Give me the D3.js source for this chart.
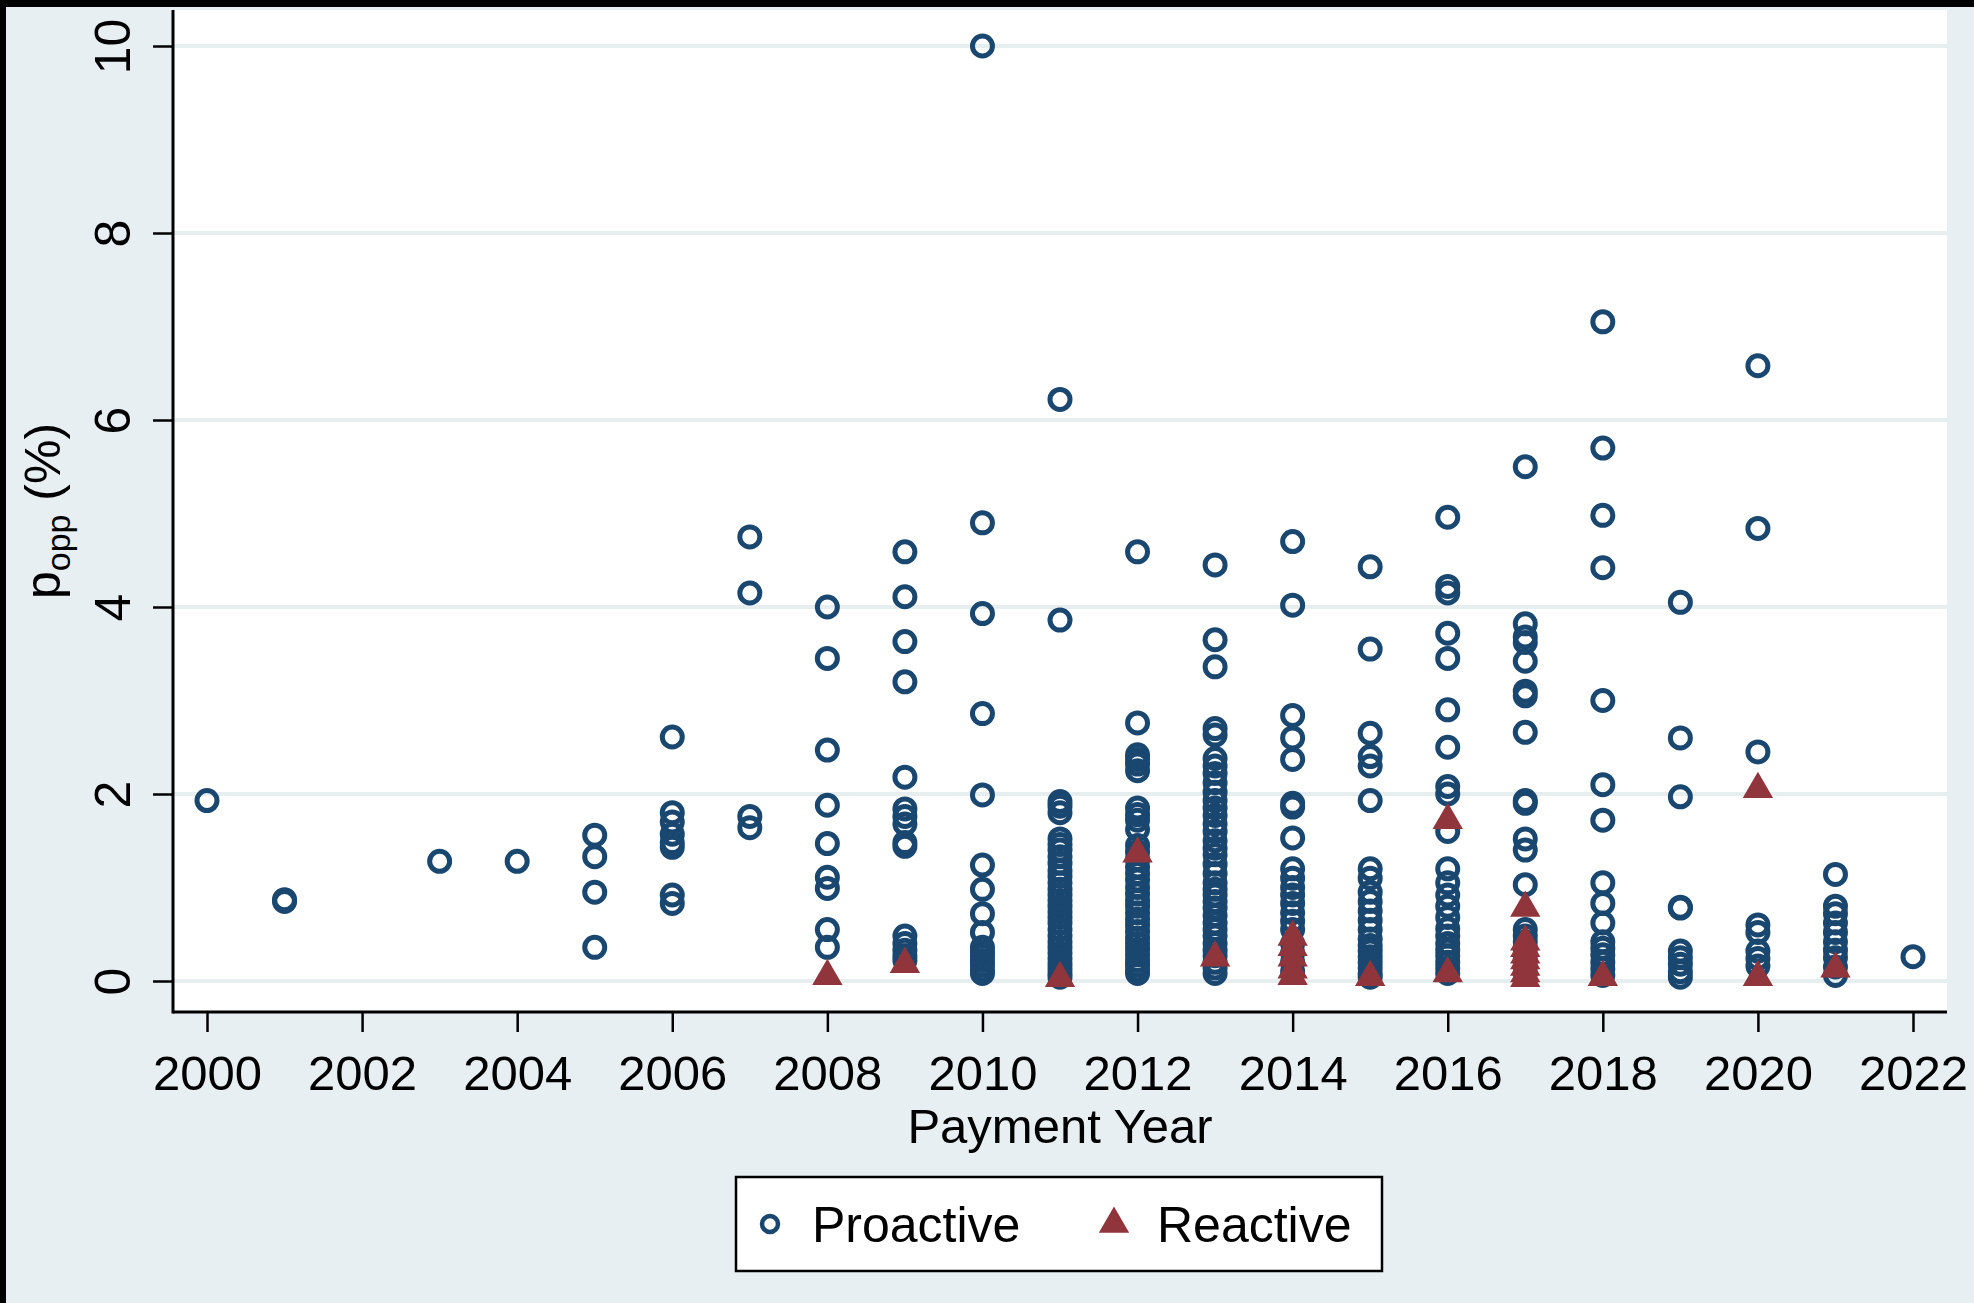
<!DOCTYPE html>
<html>
<head>
<meta charset="utf-8">
<script src="https://cdn.jsdelivr.net/npm/d3@7"></script>
<style>
  body { margin: 0; background: #000; }
  svg { display: block; }
</style>
</head>
<body>
<div id="chart"></div>
<script>
// Tick labels
const xTicks = [2000, 2002, 2004, 2006, 2008, 2010, 2012, 2014, 2016, 2018, 2020, 2022];
const yTicks = [0, 2, 4, 6, 8, 10];

// Proactive values (p_opp, %) by payment year
const pro2000 = [1.93];
const pro2001 = [0.85, 0.87];
const pro2003 = [1.28];
const pro2004 = [1.28];
const pro2005 = [1.56, 1.33, 0.95, 0.36];
const pro2006 = [2.61, 1.80, 1.70, 1.57, 1.48, 1.43, 0.92, 0.83];
const pro2007 = [4.75, 4.15, 1.76, 1.64];
const pro2008 = [4.0, 3.45, 2.47, 1.88, 1.47, 1.11, 0.99, 0.55, 0.36];
const pro2009 = [4.59, 4.11, 3.63, 3.2, 2.18, 1.84, 1.76, 1.68, 1.48, 1.44, 0.48, 0.4, 0.33, 0.27, 0.22];
const pro2010 = [10.0, 4.9, 3.93, 2.86, 1.99, 1.24, 0.98, 0.72, 0.52, 0.36, 0.31, 0.27, 0.22, 0.17, 0.12, 0.08];
const pro2011 = [6.22, 3.86, 1.92, 1.87, 1.80, 1.52, 1.46, 1.40, 1.33, 1.26, 1.18, 1.12, 1.05, 0.98, 0.92, 0.86,
                 0.80, 0.74, 0.68, 0.62, 0.55, 0.48, 0.42, 0.36, 0.30, 0.24, 0.18, 0.13, 0.08, 0.04];
const pro2012 = [4.59, 2.76, 2.42, 2.37, 2.32, 2.25, 1.85, 1.78, 1.72, 1.62, 1.45, 1.38, 1.30, 1.22, 1.15, 1.08,
                 1.0, 0.93, 0.86, 0.8, 0.73, 0.66, 0.6, 0.53, 0.46, 0.4, 0.34, 0.28, 0.22, 0.17, 0.12, 0.08];
const pro2013 = [4.45, 3.65, 3.36, 2.7, 2.63, 2.38, 2.3, 2.22, 2.12, 2.02, 1.93, 1.85, 1.77, 1.68, 1.6, 1.5, 1.42,
                 1.35, 1.25, 1.15, 1.05, 0.98, 0.92, 0.85, 0.78, 0.7, 0.62, 0.55, 0.48, 0.4, 0.33, 0.27, 0.2, 0.14, 0.08];
const pro2014 = [4.7, 4.02, 2.84, 2.6, 2.37, 1.9, 1.86, 1.53, 1.2, 1.1, 1.0, 0.92, 0.83, 0.73, 0.64, 0.55, 0.4, 0.3, 0.2, 0.1];
const pro2015 = [4.43, 3.55, 2.65, 2.4, 2.3, 1.93, 1.2, 1.1, 0.95, 0.85, 0.75, 0.65, 0.55, 0.45, 0.38, 0.32, 0.26,
                 0.2, 0.14, 0.08, 0.04];
const pro2016 = [4.96, 4.22, 4.15, 3.72, 3.45, 2.9, 2.5, 2.08, 2.0, 1.6, 1.2, 1.05, 0.92, 0.8, 0.68, 0.56, 0.48,
                 0.4, 0.33, 0.27, 0.2, 0.14, 0.08];
const pro2017 = [5.5, 3.82, 3.68, 3.62, 3.42, 3.1, 3.05, 2.66, 1.93, 1.9, 1.52, 1.4, 1.03, 0.55, 0.48, 0.42, 0.35,
                 0.28, 0.22, 0.15, 0.08];
const pro2018 = [7.05, 5.7, 4.98, 4.42, 3.0, 2.1, 1.72, 1.05, 0.83, 0.62, 0.42, 0.35, 0.28, 0.2, 0.13, 0.06];
const pro2019 = [4.05, 2.6, 1.97, 0.79, 0.78, 0.32, 0.25, 0.18, 0.1, 0.04];
const pro2020 = [6.58, 4.84, 2.45, 0.6, 0.52, 0.32, 0.24, 0.16];
const pro2021 = [1.14, 0.8, 0.72, 0.62, 0.52, 0.42, 0.33, 0.25, 0.15, 0.06];
const pro2022 = [0.26];

// Reactive values by payment year
const re2008 = [0.05];
const re2009 = [0.18];
const re2011 = [0.03];
const re2012 = [1.36];
const re2013 = [0.25];
const re2014 = [0.47, 0.36, 0.25, 0.12, 0.05];
const re2015 = [0.04];
const re2016 = [1.72, 0.08];
const re2017 = [0.78, 0.42, 0.35, 0.28, 0.22, 0.15, 0.08, 0.03];
const re2018 = [0.04];
const re2020 = [2.05, 0.04];
const re2021 = [0.13];

const proactiveYears = [
    [2000, pro2000], [2001, pro2001], [2003, pro2003], [2004, pro2004], [2005, pro2005], [2006, pro2006],
    [2007, pro2007], [2008, pro2008], [2009, pro2009], [2010, pro2010], [2011, pro2011], [2012, pro2012],
    [2013, pro2013], [2014, pro2014], [2015, pro2015], [2016, pro2016], [2017, pro2017], [2018, pro2018],
    [2019, pro2019], [2020, pro2020], [2021, pro2021], [2022, pro2022]
];
const reactiveYears = [
    [2008, re2008], [2009, re2009], [2011, re2011], [2012, re2012], [2013, re2013], [2014, re2014],
    [2015, re2015], [2016, re2016], [2017, re2017], [2018, re2018], [2020, re2020], [2021, re2021]
];

// Flatten to points
const proactive = proactiveYears.flatMap(([yr, vals]) => vals.map(v => ({ year: yr, value: v })));
const reactive = reactiveYears.flatMap(([yr, vals]) => vals.map(v => ({ year: yr, value: v })));

const width = 1974;
const height = 1303;
const plot = { left: 173, right: 1947, top: 10, bottom: 1012 };
const navy = "#1a476f";
const maroon = "#90353b";
const font = "'Liberation Sans', Arial, sans-serif";

const svg = d3.select("#chart")
    .append("svg")
    .attr("width", width)
    .attr("height", height)
    .style("font-family", font);

// Background and frame
svg.append("rect").attr("width", width).attr("height", height).attr("fill", "#e8eff2");
svg.append("rect").attr("width", width).attr("height", 7).attr("fill", "#000");
svg.append("rect").attr("width", 6).attr("height", height).attr("fill", "#000");

// Scales
const x = d3.scaleLinear().domain([2000, 2022]).range([207, 1913]);
const y = d3.scaleLinear().domain([0, 10]).range([981, 46]);

// Plot region
svg.append("rect")
    .attr("x", plot.left)
    .attr("y", plot.top)
    .attr("width", plot.right - plot.left)
    .attr("height", plot.bottom - plot.top)
    .attr("fill", "#fff");

// Gridlines
svg.selectAll(".grid")
    .data(yTicks)
    .enter()
    .append("line")
    .attr("x1", plot.left)
    .attr("x2", plot.right)
    .attr("y1", d => y(d))
    .attr("y2", d => y(d))
    .attr("stroke", "#e6eef0")
    .attr("stroke-width", 4);

// X axis
const xAxis = svg.append("g")
    .attr("transform", `translate(0,${plot.bottom})`)
    .call(d3.axisBottom(x).tickValues(xTicks).tickFormat(d3.format("d")).tickSize(20).tickPadding(23));
xAxis.select(".domain").remove();
xAxis.selectAll("line").attr("stroke", "#000").attr("stroke-width", 2.5);
xAxis.selectAll("text")
    .attr("dy", "0.71em")
    .style("font-size", "49px")
    .style("font-family", font)
    .attr("fill", "#000");

// Y axis
const yAxis = svg.append("g")
    .attr("transform", `translate(${plot.left},0)`)
    .call(d3.axisLeft(y).tickValues(yTicks).tickSize(20));
yAxis.select(".domain").remove();
yAxis.selectAll("line").attr("stroke", "#000").attr("stroke-width", 2.5);
yAxis.selectAll("text")
    .attr("transform", "rotate(-90)")
    .attr("x", 0)
    .attr("y", -43)
    .attr("dy", 0)
    .attr("text-anchor", "middle")
    .style("font-size", "50px")
    .style("font-family", font)
    .attr("fill", "#000");

// Axis lines over full plot region
svg.append("line")
    .attr("x1", plot.left).attr("x2", plot.right)
    .attr("y1", plot.bottom).attr("y2", plot.bottom)
    .attr("stroke", "#000").attr("stroke-width", 3);
svg.append("line")
    .attr("x1", plot.left).attr("x2", plot.left)
    .attr("y1", plot.top).attr("y2", plot.bottom + 1.5)
    .attr("stroke", "#000").attr("stroke-width", 3);

// Proactive: hollow circles
svg.selectAll(".pro")
    .data(proactive)
    .enter()
    .append("circle")
    .attr("class", "pro")
    .attr("cx", d => x(d.year))
    .attr("cy", d => y(d.value))
    .attr("r", 10)
    .attr("fill", "none")
    .attr("stroke", navy)
    .attr("stroke-width", 5);

// Reactive: filled triangles
const tri = d3.symbol().type(d3.symbolTriangle).size(400);
svg.selectAll(".re")
    .data(reactive)
    .enter()
    .append("path")
    .attr("class", "re")
    .attr("d", tri)
    .attr("transform", d => `translate(${x(d.year)},${y(d.value)})`)
    .attr("fill", maroon);

// Axis titles
svg.append("text")
    .attr("x", (plot.left + plot.right) / 2)
    .attr("y", 1143)
    .attr("text-anchor", "middle")
    .style("font-size", "49px")
    .text("Payment Year");

const yTitle = svg.append("text")
    .attr("transform", `translate(60,${(plot.top + plot.bottom) / 2}) rotate(-90)`)
    .attr("text-anchor", "middle")
    .style("font-size", "50px");
yTitle.append("tspan").text("p");
yTitle.append("tspan").attr("dy", 10).style("font-size", "34px").text("opp");
yTitle.append("tspan").attr("dy", -10).text(" (%)");

// Legend
const legend = svg.append("g");
legend.append("rect")
    .attr("x", 736)
    .attr("y", 1177)
    .attr("width", 646)
    .attr("height", 94)
    .attr("fill", "#fff")
    .attr("stroke", "#000")
    .attr("stroke-width", 2.5);
legend.append("circle")
    .attr("cx", 770).attr("cy", 1224).attr("r", 8)
    .attr("fill", "none").attr("stroke", navy).attr("stroke-width", 4.5);
legend.append("text")
    .attr("x", 812).attr("y", 1242)
    .style("font-size", "50px")
    .text("Proactive");
legend.append("path")
    .attr("d", d3.symbol().type(d3.symbolTriangle).size(400))
    .attr("transform", "translate(1114,1224)")
    .attr("fill", maroon);
legend.append("text")
    .attr("x", 1157).attr("y", 1242)
    .style("font-size", "50px")
    .text("Reactive");
</script>
</body>
</html>
